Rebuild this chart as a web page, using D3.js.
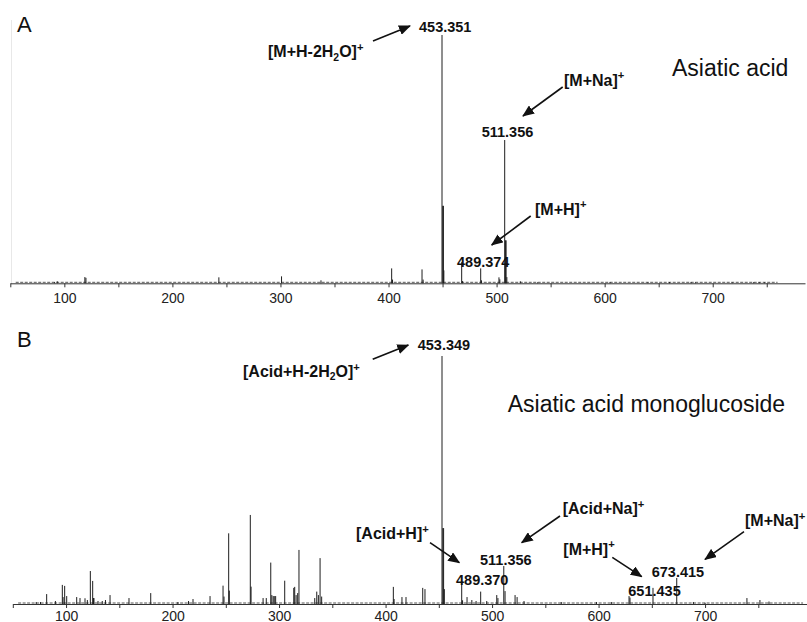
<!DOCTYPE html>
<html>
<head>
<meta charset="utf-8">
<script src="https://cdn.jsdelivr.net/npm/d3@7"></script>
<style>
  html, body { margin: 0; padding: 0; background: #fff; }
  svg { display: block; font-family: "Liberation Sans", Arial, sans-serif; }
</style>
</head>
<body>
<svg id="chart" width="807" height="622"></svg>
<script>
// ---------------- DATA ----------------
// Panel A: Asiatic acid (m/z, relative intensity %)
const peaksA_mz  = [449.5, 450.2, 450.8, 451.2, 507.5, 508.2, 508.8, 509.5, 467.7, 468.5, 485.3, 486.0,
                    502.2, 503.0, 402.9, 403.7, 431.0, 432.0, 119.0, 120.0, 93.5, 91.0, 243.0, 301.0,
                    337.5, 522.0, 538.0, 605.0, 640.0, 660.0, 680.0, 684.0, 718.0, 738.0, 743.0, 748.0];
const peaksA_int = [100, 31.2, 31.2, 5.2, 57.7, 17.3, 17.3, 2.5, 8.5, 0.9, 6.0, 1.2,
                    2.4, 1.6, 6.0, 1.5, 5.6, 1.5, 2.5, 2.2, 0.8, 0.5, 2.4, 2.8,
                    1.2, 0.8, 0.4, 0.5, 0.4, 0.5, 0.5, 0.4, 0.4, 0.5, 0.5, 0.4];

// Panel B: Asiatic acid monoglucoside
const peaksB_mz  = [453.0, 453.8, 454.5, 455.2, 511.0, 512.2, 471.5, 472.3, 489.3, 673.4, 651.1, 628.6, 629.5,
                    273.0, 273.7, 252.7, 253.3, 318.7, 317.5, 316.0, 338.5, 335.4, 336.9, 333.5, 340.0,
                    292.2, 293.2, 294.5, 295.5, 296.8, 305.3, 313.8, 314.7, 122.8, 125.0, 125.8,
                    96.5, 98.7, 97.2, 100.6, 81.8, 179.5, 247.4, 248.3, 235.2, 141.3, 159.1, 219.2,
                    110.0, 113.1, 117.8, 120.0, 126.2, 130.0, 134.0, 137.0, 90.0, 72.0, 76.0,
                    407.3, 408.0, 434.9, 437.0, 415.4, 419.2, 504.4, 505.5, 521.6, 523.5, 476.5,
                    481.0, 485.0, 495.0, 530.0, 739.3, 751.5, 760.0, 598.0, 565.0, 612.0, 689.0,
                    700.0, 285.0, 288.0, 205.0, 215.0];
const peaksB_int = [100, 30.6, 30.6, 6.0, 15.3, 5.2, 9.0, 1.5, 5.0, 10.5, 6.5, 3.2, 2.6,
                    35.9, 7.0, 28.5, 5.4, 21.8, 4.4, 3.6, 18.5, 5.0, 3.6, 2.4, 3.0,
                    16.7, 3.6, 3.2, 3.2, 3.2, 9.4, 6.5, 6.9, 13.3, 9.3, 2.4,
                    7.7, 7.3, 2.8, 3.2, 4.0, 4.4, 7.4, 3.0, 3.2, 3.6, 2.4, 2.0,
                    2.8, 2.4, 2.3, 1.6, 2.4, 1.2, 1.2, 1.6, 1.2, 0.8, 0.8,
                    6.9, 2.0, 6.5, 6.0, 2.8, 2.8, 3.6, 2.4, 3.6, 2.8, 2.8,
                    1.6, 1.2, 1.2, 1.2, 2.4, 1.6, 1.0, 0.8, 0.8, 0.8, 0.8,
                    0.5, 2.4, 2.4, 0.8, 1.2];

const tickValues = [50, 100, 150, 200, 250, 300, 350, 400, 450, 500, 550, 600, 650, 700, 750];
const tickLabels = ["", "100", "", "200", "", "300", "", "400", "", "500", "", "600", "", "700", ""];

// ---------------- LAYOUT ----------------
const svg = d3.select("#chart");
const fontStack = '"Liberation Sans", Arial, sans-serif';

const panels = [
  { id: "A", mz: peaksA_mz, inten: peaksA_int, domain: [50, 785.4], range: [10.3, 805], base: 283.3, top: 35,
    noise: [55, 760], letterY: 32, vline: true, labelY: 19.5 },
  { id: "B", mz: peaksB_mz, inten: peaksB_int, domain: [50, 795.7], range: [12.8, 807], base: 604, top: 356,
    noise: [55, 792], letterY: 347, vline: false, labelY: 16.5 }
];

// arrow marker
const defs = svg.append("defs");
defs.append("marker")
  .attr("id", "arrow")
  .attr("viewBox", "0 0 12 10")
  .attr("refX", 11).attr("refY", 5)
  .attr("markerWidth", 12).attr("markerHeight", 10)
  .attr("markerUnits", "userSpaceOnUse")
  .attr("orient", "auto")
  .append("path").attr("d", "M0,0 L12,5 L0,10 Z").attr("fill", "#111");

panels.forEach(p => {
  const x = d3.scaleLinear().domain(p.domain).range(p.range);
  const y = d3.scaleLinear().domain([0, 100]).range([p.base, p.top]);
  const g = svg.append("g");

  if (p.vline) {
    g.append("line").attr("x1", p.range[0] + 1.2).attr("x2", p.range[0] + 1.2)
      .attr("y1", 20).attr("y2", p.base).attr("stroke", "#e8e8e8").attr("stroke-width", 1);
  }

  // baseline noise (visual)
  g.append("line").attr("x1", x(p.noise[0])).attr("x2", x(p.noise[1]))
    .attr("y1", p.base - 1).attr("y2", p.base - 1)
    .attr("stroke", "#555").attr("stroke-width", 1).attr("stroke-dasharray", "3,1.5");

  // peaks
  const data = p.mz.map((m, i) => ({ m, v: p.inten[i] }));
  g.selectAll("line.peak").data(data).enter().append("line")
    .attr("class", "peak")
    .attr("x1", d => x(d.m)).attr("x2", d => x(d.m))
    .attr("y1", y(0)).attr("y2", d => y(d.v))
    .attr("stroke", "#1e1e1e").attr("stroke-width", 1);

  // axis
  const axis = d3.axisBottom(x)
    .tickValues(tickValues)
    .tickFormat((d, i) => tickLabels[i])
    .tickSize(4).tickSizeOuter(0).tickPadding(4);
  const ax = g.append("g").attr("transform", `translate(0,${p.base})`).call(axis);
  ax.select(".domain").attr("stroke", "#333").attr("stroke-width", 1);
  ax.selectAll(".tick line").attr("stroke", "#333");
  ax.selectAll(".tick text").attr("font-size", 14).attr("font-family", fontStack)
    .attr("fill", "#222").attr("dy", null).attr("y", p.labelY);
  ax.selectAll(".tick text").filter(function () { return this.textContent === ""; }).remove();

  // panel letter
  svg.append("text").attr("x", 17).attr("y", p.letterY).attr("font-size", 22)
    .attr("font-family", fontStack).attr("fill", "#111").text(p.id);
});

// ---------------- ANNOTATIONS ----------------
function rich(x, yb, parts, size, weight) {
  const t = svg.append("text").attr("x", x).attr("y", yb)
    .attr("font-size", size).attr("font-weight", weight || "bold")
    .attr("font-family", fontStack).attr("fill", "#111");
  let pending = 0;
  parts.forEach(pt => {
    if (typeof pt === "string") {
      const s = t.append("tspan").text(pt);
      if (pending) { s.attr("dy", pending); pending = 0; }
    } else if (pt.sub) {
      t.append("tspan").attr("font-size", size * 0.65).attr("dy", size * 0.22 + pending).text(pt.sub);
      pending = -size * 0.22;
    } else if (pt.sup) {
      t.append("tspan").attr("font-size", size * 0.7).attr("dy", -size * 0.38 + pending).text(pt.sup);
      pending = 0;
    }
  });
}
function arrow(x1, y1, x2, y2) {
  svg.append("line").attr("x1", x1).attr("y1", y1).attr("x2", x2).attr("y2", y2)
    .attr("stroke", "#111").attr("stroke-width", 1.6).attr("marker-end", "url(#arrow)");
}

// Panel A labels
rich(419, 32, ["453.351"], 14.5);
rich(268, 57, ["[M+H-2H", {sub: "2"}, "O]", {sup: "+"}], 16);
arrow(373, 41, 410, 26);
rich(564, 85.5, ["[M+Na]", {sup: "+"}], 16);
arrow(562.7, 87, 523, 116);
rich(481.7, 137, ["511.356"], 14.5);
rich(457, 266.5, ["489.374"], 14.5);
rich(535, 214.5, ["[M+H]", {sup: "+"}], 16);
arrow(530.7, 216, 491.7, 245);
rich(672, 76, ["Asiatic acid"], 23, "normal");

// Panel B labels
rich(417.7, 350, ["453.349"], 14.5);
rich(243, 376.7, ["[Acid+H-2H", {sub: "2"}, "O]", {sup: "+"}], 16);
arrow(372.7, 359.3, 408.3, 345);
rich(507.7, 411.7, ["Asiatic acid monoglucoside"], 23, "normal");
rich(562.7, 514, ["[Acid+Na]", {sup: "+"}], 16);
arrow(560, 516, 521.7, 542.7);
rich(356, 539, ["[Acid+H]", {sup: "+"}], 16);
arrow(430, 542.7, 459.3, 562.7);
rich(480, 565, ["511.356"], 14.5);
rich(456, 585, ["489.370"], 14.5);
rich(563.3, 554.5, ["[M+H]", {sup: "+"}], 16);
arrow(612.3, 557.3, 641.7, 576.7);
rich(651.7, 576.5, ["673.415"], 14.5);
rich(628.3, 596, ["651.435"], 14.5);
rich(745, 526, ["[M+Na]", {sup: "+"}], 16);
arrow(744, 531.7, 705, 559.3);
</script>
</body>
</html>
